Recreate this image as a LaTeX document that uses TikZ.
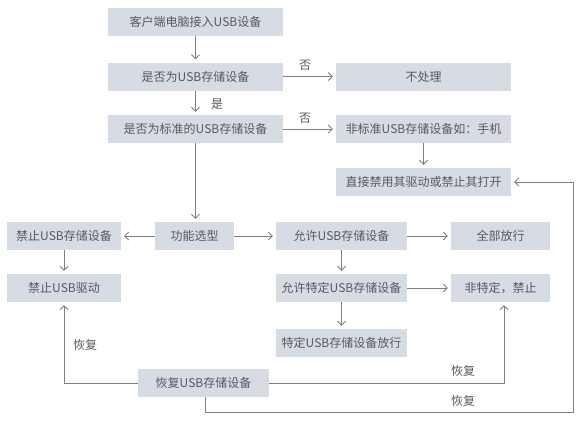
\documentclass[tikz,border=0pt]{standalone}
\usepackage{fontspec}
\setmainfont{Noto Sans CJK SC}
\usetikzlibrary{arrows.meta}
\definecolor{boxfill}{HTML}{D6DCE4}
\definecolor{txt}{HTML}{595959}
\definecolor{ln}{HTML}{7F7F7F}
\begin{document}
\begin{tikzpicture}[x=1pt,y=-1pt,
  box/.style={fill=boxfill, text=txt, font=\fontsize{12}{14}\selectfont, inner sep=0pt, minimum height=28pt},
  wA/.style={minimum width=175pt},
  wB/.style={minimum width=114pt},
  wC/.style={minimum width=131pt},
  wD/.style={minimum width=99pt},
  arr/.style={draw=ln, line width=0.8pt, -{Straight Barb[length=4pt,width=8pt]}, shorten >=3pt},
  plain/.style={draw=ln, line width=0.8pt},
  lbl/.style={text=txt, font=\fontsize{12}{14}\selectfont, inner sep=0pt}]
\useasboundingbox (0,0) rectangle (580,420);
\node[box,wA] (n1) at (195.5,22) {客户端电脑接入USB设备};
\node[box,wA] (n2) at (195.5,76.5) {是否为USB存储设备};
\node[box,wA] (n3) at (195.5,129) {是否为标准的USB存储设备};
\node[box,wA] (n4) at (423.5,76.5) {不处理};
\node[box,wA] (n5) at (423.5,129) {非标准USB存储设备如：手机};
\node[box,wA] (n6) at (423.5,182) {直接禁用其驱动或禁止其打开};
\node[box,wB] (n7) at (64,236) {禁止USB存储设备};
\node[box,minimum width=79pt] (n8) at (194.5,236) {功能选型};
\node[box,wC] (n9) at (341.5,236) {允许USB存储设备};
\node[box,wD] (n10) at (500.5,236) {全部放行};
\node[box,wB] (n11) at (64,288) {禁止USB驱动};
\node[box,wC] (n12) at (341.5,288) {允许特定USB存储设备};
\node[box,wD] (n13) at (500.5,288) {非特定，禁止};
\node[box,wC] (n14) at (341.5,343) {特定USB存储设备放行};
\node[box,wC] (n15) at (203.5,383) {恢复USB存储设备};
% labels
\node[lbl] (l1) at (217,104) {是};
\node[lbl] (l2) at (305,65) {否};
\node[lbl] (l3) at (305,118) {否};
\node[lbl] (l4) at (85,345) {恢复};
\node[lbl] (l5) at (463,371) {恢复};
\node[lbl] (l6) at (463,401) {恢复};
\coordinate (c1) at (504,383);
\coordinate (c2) at (205,412);
\coordinate (c3) at (573,412);
% connectors
\draw[arr] (n1.south) -- (n2.north);
\draw[arr] (n2.south) -- (n3.north);
\draw[arr] (n2.east) -- (n4.west);
\draw[arr] (n3.east) -- (n5.west);
\draw[arr] (n3.south) -- (n3.south |- n8.north);
\draw[arr] (n5.south) -- (n6.north);
\draw[arr] (n8.west) -- (n7.east);
\draw[arr] (n8.east) -- (n9.west);
\draw[arr] (n9.east) -- (n10.west);
\draw[arr] (n7.south) -- (n11.north);
\draw[arr] (n9.south) -- (n12.north);
\draw[arr] (n12.east) -- (n13.west);
\draw[arr] (n12.south) -- (n14.north);
\draw[arr] (n15.west) -| (n11.south);
\draw[arr] (n15.east) -- (c1) -- (c1 |- n13.south);
\draw[arr] (c2 |- n15.south) -- (c2) -- (c3) |- (n6.east);
\end{tikzpicture}
\end{document}
